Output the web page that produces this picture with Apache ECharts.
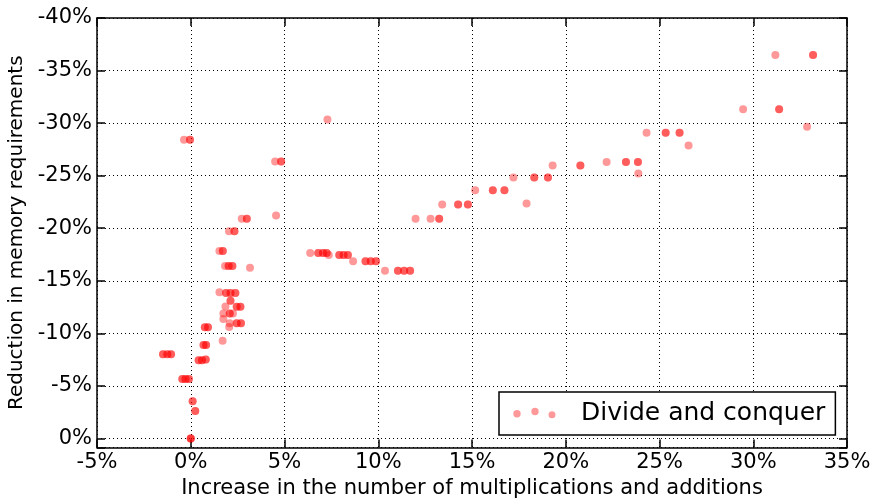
<!DOCTYPE html>
<html>
<head>
<meta charset="utf-8">
<script src="https://cdn.jsdelivr.net/npm/echarts@6/dist/echarts.min.js"></script>
<style>
  html, body { margin: 0; padding: 0; background: #fff; }
  #chart { width: 872px; height: 502px; }
</style>
</head>
<body>
<div id="chart"></div>
<script>
// Increase in multiply/add operations (%) for each configuration
const increasePct = [
  -0.36, -0.04, 4.50, 4.82, 7.29, 4.55, 2.72, 2.99, 2.04, 2.33,
  1.53, 1.71, 3.16, 1.83, 2.02, 2.22, 1.53, 1.88, 2.12, 2.38,
  2.12, 1.85, 2.45, 2.65, 1.74, 2.08, 2.25, 1.74, 2.08, 2.45,
  2.68, 2.05, 0.75, 0.92, 1.70, 0.68, 0.82, -1.48, -1.25, -1.05,
  0.42, 0.60, 0.80, -0.45, -0.28, -0.10, 0.10, 0.24, 0.00,
  6.37, 6.80, 7.05, 7.25, 7.36, 7.92, 8.15, 8.38, 8.66, 9.32,
  9.60, 9.88, 10.36, 11.05, 11.38, 11.70, 11.99, 12.79, 13.25, 13.41,
  14.26, 14.78, 15.17, 16.11, 16.73, 17.91, 17.21, 18.32, 19.05, 19.30,
  20.78, 22.18, 23.21, 23.85, 23.87, 24.31, 25.33, 26.07, 26.55, 29.46,
  31.38, 32.87, 31.18, 33.19
];
// Change in memory requirements (%) for the same configurations
const reductionPct = [
  -28.41, -28.41, -26.34, -26.34, -30.34, -21.20, -20.89, -20.89, -19.71, -19.71,
  -17.84, -17.84, -16.25, -16.41, -16.41, -16.41, -13.90, -13.85, -13.85, -13.85,
  -13.10, -12.55, -12.53, -12.53, -11.88, -11.88, -11.88, -11.36, -10.95, -10.95,
  -10.95, -10.60, -10.57, -10.57, -9.30, -8.90, -8.90, -8.00, -8.00, -8.00,
  -7.43, -7.43, -7.50, -5.65, -5.65, -5.65, -3.55, -2.62, 0.00,
  -17.65, -17.65, -17.65, -17.65, -17.46, -17.46, -17.46, -17.46, -16.86, -16.86,
  -16.86, -16.86, -15.96, -15.96, -15.96, -15.96, -20.89, -20.89, -20.89, -22.25,
  -22.25, -22.25, -23.62, -23.62, -23.62, -22.35, -24.82, -24.82, -24.82, -25.96,
  -25.96, -26.31, -26.31, -26.31, -25.20, -29.08, -29.08, -29.08, -27.87, -31.33,
  -31.33, -29.65, -36.47, -36.47
];
// How many configurations land on the same point
const coincidentRuns = [
  1, 2, 1, 2, 1, 1, 1, 2, 1, 2,
  1, 2, 1, 1, 2, 2, 1, 2, 2, 2,
  2, 1, 2, 2, 1, 2, 1, 1, 1, 2,
  2, 1, 2, 2, 1, 2, 2, 2, 2, 2,
  2, 2, 2, 2, 2, 2, 2, 2, 3,
  1, 2, 2, 2, 1, 2, 2, 2, 1, 2,
  2, 2, 1, 2, 2, 2, 1, 1, 2, 1,
  2, 2, 1, 2, 2, 1, 1, 2, 2, 1,
  2, 1, 2, 2, 1, 1, 2, 2, 1, 1,
  2, 1, 1, 2
];

const xTicks = [-5, 0, 5, 10, 15, 20, 25, 30, 35];
const yTicks = [-40, -35, -30, -25, -20, -15, -10, -5, 0];
const yBottom = 0.86;

const seriesName = 'Divide and conquer';
const xTitle = 'Increase in the number of multiplications and additions';
const yTitle = 'Reduction in memory requirements';

const points = [];
increasePct.forEach((x, i) => {
  for (let k = 0; k < coincidentRuns[i]; k++) points.push([x, reductionPct[i]]);
});

const FONT = 'DejaVu Sans';
const frame = { color: '#000', width: 1.5 };
const pct = v => (Math.abs(v % 5) < 1e-9 ? v + '%' : '');
const grid = { type: [1, 3], color: '#000', width: 1 };

const chart = echarts.init(document.getElementById('chart'), null, { renderer: 'canvas' });
chart.setOption({
  animation: false,
  backgroundColor: '#fff',
  grid: { left: 97, right: 25, top: 18, bottom: 54.5, containLabel: false, outerBoundsMode: 'none' },
  legend: {
    data: [seriesName],
    left: 499, top: 392,
    padding: [9, 10, 9, 13],
    itemWidth: 64, itemHeight: 12,
    icon: 'path://M0,0 M1.3,6.3 a3.7,3.7 0 1,0 7.4,0 a3.7,3.7 0 1,0 -7.4,0 Z M19.3,4 a3.7,3.7 0 1,0 7.4,0 a3.7,3.7 0 1,0 -7.4,0 Z M36.5,7.3 a3.5,3.5 0 1,0 7,0 a3.5,3.5 0 1,0 -7,0 Z M64,12',
    symbolKeepAspect: false,
    borderColor: '#000', borderWidth: 1.5, borderRadius: 0,
    backgroundColor: '#fff',
    itemStyle: { color: 'rgba(255,0,0,0.5)', borderWidth: 0 },
    textStyle: { fontFamily: FONT, fontSize: 25, color: '#000' },
    selectedMode: false
  },
  xAxis: [{
    type: 'value', position: 'bottom',
    min: xTicks[0], max: xTicks[xTicks.length - 1], interval: xTicks[1] - xTicks[0],
    name: xTitle, nameLocation: 'middle', nameGap: 28,
    nameTextStyle: { fontFamily: FONT, fontSize: 21, color: '#000' },
    axisLine: { show: true, onZero: false, lineStyle: frame },
    axisTick: { show: true, inside: true, length: 8, lineStyle: frame },
    axisLabel: { formatter: pct, fontFamily: FONT, fontSize: 21, color: '#000', margin: 5 },
    splitLine: { show: true, lineStyle: grid }
  }, {
    type: 'value', position: 'top',
    min: xTicks[0], max: xTicks[xTicks.length - 1], interval: xTicks[1] - xTicks[0],
    axisLine: { show: true, onZero: false, lineStyle: frame },
    axisTick: { show: true, inside: true, length: 8, lineStyle: frame },
    axisLabel: { show: false },
    splitLine: { show: false }
  }],
  yAxis: [{
    type: 'value', position: 'left', inverse: true,
    min: yTicks[0], max: yBottom, interval: yTicks[1] - yTicks[0],
    name: yTitle, nameLocation: 'middle', nameGap: 67,
    nameTextStyle: { fontFamily: FONT, fontSize: 20, color: '#000' },
    axisLine: { show: true, onZero: false, lineStyle: frame },
    axisTick: { show: true, inside: true, length: 8, lineStyle: frame },
    axisLabel: { formatter: pct, fontFamily: FONT, fontSize: 21, color: '#000', margin: 5 },
    splitLine: { show: true, lineStyle: grid }
  }, {
    type: 'value', position: 'right', inverse: true,
    min: yTicks[0], max: yBottom, interval: yTicks[1] - yTicks[0],
    axisLine: { show: true, onZero: false, lineStyle: frame },
    axisTick: { show: true, inside: true, length: 8, lineStyle: frame },
    axisLabel: { show: false },
    splitLine: { show: false }
  }],
  series: [{
    name: seriesName,
    type: 'scatter',
    xAxisIndex: 0, yAxisIndex: 0,
    symbol: 'circle', symbolSize: 8,
    itemStyle: { color: 'rgba(255,0,0,0.5)', borderWidth: 0 },
    emphasis: { disabled: true },
    data: points
  }]
});
</script>
</body>
</html>
